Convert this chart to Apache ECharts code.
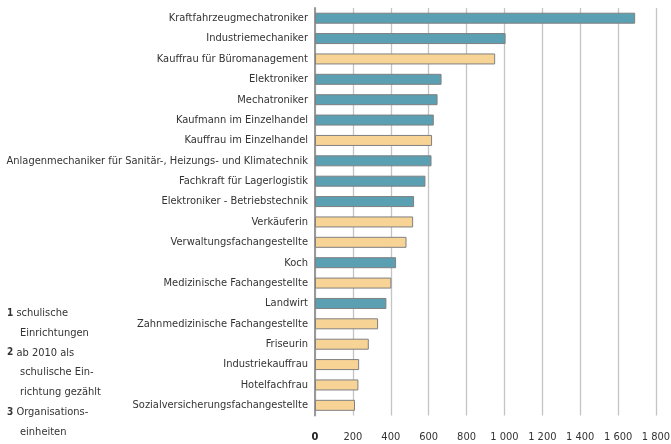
<!DOCTYPE html>
<html>
<head>
<meta charset="utf-8">
<script src="https://cdn.jsdelivr.net/npm/echarts@6/dist/echarts.min.js"></script>
<style>html,body{margin:0;padding:0;background:#fff}#c{width:671px;height:444px}</style>
</head>
<body>
<div id="c"></div>
<script>
const categories = [
  "Kraftfahrzeugmechatroniker",
  "Industriemechaniker",
  "Kauffrau für Büromanagement",
  "Elektroniker",
  "Mechatroniker",
  "Kaufmann im Einzelhandel",
  "Kauffrau im Einzelhandel",
  "Anlagenmechaniker für Sanitär-, Heizungs- und Klimatechnik",
  "Fachkraft für Lagerlogistik",
  "Elektroniker - Betriebstechnik",
  "Verkäuferin",
  "Verwaltungsfachangestellte",
  "Koch",
  "Medizinische Fachangestellte",
  "Landwirt",
  "Zahnmedizinische Fachangestellte",
  "Friseurin",
  "Industriekauffrau",
  "Hotelfachfrau",
  "Sozialversicherungsfachangestellte"
];
const values = [1690, 1006, 951, 668, 647, 627, 618, 615, 583, 523, 518, 483, 428, 403, 377, 333, 284, 233, 229, 211];
const groups = ["m","m","f","m","m","m","f","m","m","m","f","f","m","f","m","f","f","f","f","f"];
const tickValues = [0, 200, 400, 600, 800, 1000, 1200, 1400, 1600, 1800];
const footnotes = [
  ["1", "schulische"], ["", "Einrichtungen"],
  ["2", "ab 2010 als"], ["", "schulische Ein-"], ["", "richtung gezählt"],
  ["3", "Organisations-"], ["", "einheiten"]
];

const colors = { m: "#5A9FB2", f: "#F8D396" };
const FONT = "'Liberation Sans Narrow', 'DejaVu Sans Condensed', sans-serif";
const FS = 11;

const chart = echarts.init(document.getElementById('c'), null, { renderer: 'canvas' });

const graphics = footnotes.map((f, i) => ({
  type: 'text',
  left: f[0] ? 7 : 20,
  top: 308 + i * 19.7,
  style: {
    text: f[0] ? '{b|' + f[0] + '} ' + f[1] : f[1],
    font: FS + 'px ' + FONT,
    fill: '#333',
    rich: { b: { fontWeight: 'bold', fontSize: 10, fontFamily: FONT, fill: '#333' } }
  }
}));

chart.setOption({
  animation: false,
  grid: { left: 315, right: 15, top: 8, bottom: 28.5, outerBoundsMode: 'none', containLabel: false },
  xAxis: {
    type: 'value', min: 0, max: 1800, interval: 200,
    axisLine: { show: false }, axisTick: { show: false },
    splitLine: { show: true, lineStyle: { color: '#c4c4c4', width: 1.3 } },
    axisLabel: {
      margin: 16, color: '#333', fontFamily: FONT, fontSize: FS,
      formatter: v => {
        if (tickValues.indexOf(v) < 0) return '';
        if (v === 0) return '{z|0}';
        return String(v).replace(/\B(?=(\d{3})+(?!\d))/g, ' ');
      },
      rich: { z: { fontWeight: 'bold', fontSize: FS, fontFamily: FONT, color: '#222' } }
    }
  },
  yAxis: {
    type: 'category', data: categories, inverse: true,
    axisLine: { show: true, lineStyle: { color: '#999', width: 2 } },
    axisTick: { show: false },
    axisLabel: { margin: 7, color: '#333', fontFamily: FONT, fontSize: FS }
  },
  series: [{
    type: 'bar',
    barWidth: 11,
    data: values.map((v, i) => ({
      value: v,
      itemStyle: { color: colors[groups[i]], borderColor: '#808080', borderWidth: 1 }
    }))
  }],
  graphic: graphics
});
</script>
</body>
</html>
